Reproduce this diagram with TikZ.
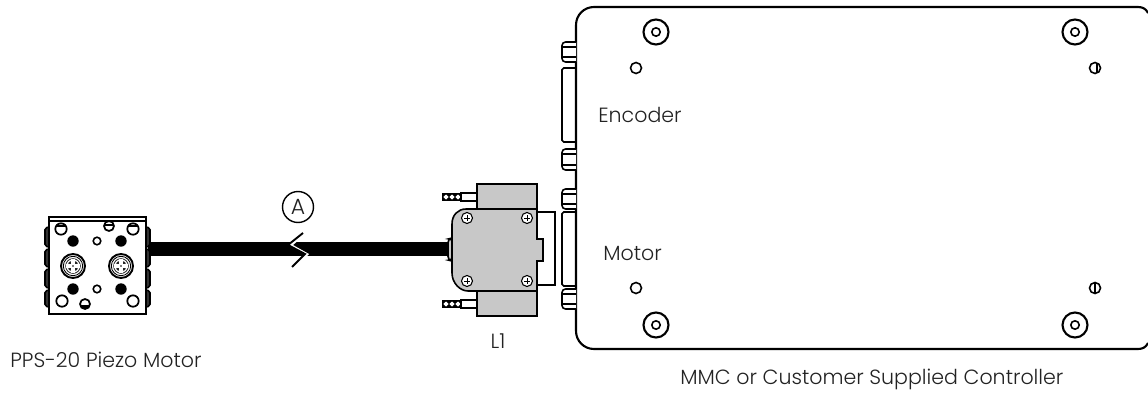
\documentclass[tikz,border=0pt]{standalone}
\usepackage{fontspec}
\setmainfont{Poppins Light}
\definecolor{shell}{HTML}{C8C8C8}
\definecolor{txt}{HTML}{222222}
\tikzset{
  x=0.02cm,y=-0.02cm,
  ln/.style={draw=black,line width=0.9pt},
  thin ln/.style={draw=black,line width=0.6pt},
  lbl/.style={inner sep=0pt,text=txt,font=\fontsize{11.7pt}{14pt}\selectfont},
  letter lbl/.style={lbl,font=\fontsize{12.5pt}{14pt}\selectfont},
  gray part/.style={ln,fill=shell},
  nut/.style={ln,fill=white,rounded corners=2pt},
}
\newcommand{\ringhole}[2]{%
  \draw[line width=1.2pt] (#1,#2) circle[radius=12.5];
  \draw[line width=0.9pt] (#1,#2) circle[radius=4.2];}
\newcommand{\connscrew}[2]{%
  \draw[thin ln,fill=white] (#1,#2) circle[radius=5.5];
  \draw[line width=0.5pt] (#1-3,#2)--(#1+3,#2) (#1,#2-3)--(#1,#2+3);}
\newcommand{\motorscrew}[2]{%
  \draw[line width=1.1pt,fill=white] (#1,#2) circle[radius=12];
  \draw[line width=0.5pt] (#1,#2) circle[radius=9.7];
  \fill[black!85] (#1,#2) circle[radius=7.8];
  \fill[white] (#1,#2) circle[radius=6.8];
  \fill[black!85] (#1,#2) circle[radius=5.6];
  \fill[white] (#1-6.8,#2-1.7) rectangle (#1+6.8,#2+1.7);
  \fill[white] (#1-1.7,#2-6.8) rectangle (#1+1.7,#2+6.8);
  \fill (#1,#2) circle[radius=0.9];}
\newcommand{\thumb}[1]{%
  \fill (442,#1) rectangle (461,#1+8);
  \foreach \k in {446,452,458}{\fill[white] (\k,#1+1.5) -- (\k+2.6,#1+4) -- (\k,#1+6.5) -- (\k-2.6,#1+4) -- cycle;}
  \draw[thin ln,fill=white] (461,#1) rectangle (477,#1+8);}
\newcommand{\ctlnut}[2]{%
  \draw[nut] (576,#1) -- (562,#1) -- (562,#2) -- (576,#2);
  \draw[thin ln] (563,#1+5) -- (576,#1+5) (563,#2-5) -- (576,#2-5);}
\begin{document}
\begin{tikzpicture}
\useasboundingbox (0,0) rectangle (1148,392);

% ---- controller
\draw[line width=1.2pt] (1148,13) .. controls (1146,9) and (1143,7) .. (1138,7) -- (594,7) .. controls (584,7) and (576,15) .. (576,25) -- (576,331) .. controls (576,341) and (584,349) .. (594,349) -- (1138,349) .. controls (1143,349) and (1146,347) .. (1148,343);
\ctlnut{42}{62}
\draw[ln,rounded corners=1pt] (576,68) -- (562,68) -- (562,142) -- (576,142);
\ctlnut{149}{170}
\ctlnut{189}{209}
\draw[ln,rounded corners=1pt] (576,212) -- (562,212) -- (562,286) -- (576,286);
\ctlnut{289}{309}
\ringhole{656}{32}
\ringhole{1075}{32}
\ringhole{656}{325}
\ringhole{1075}{325}
\draw[line width=0.9pt] (636,68) circle[radius=5.5];
\draw[line width=0.9pt] (636,288) circle[radius=5.5];
\draw[line width=0.9pt] (1095,68) circle[radius=5.5];
\draw[line width=1.2pt] (1097,63) -- (1097,73);
\draw[line width=0.9pt] (1095,288) circle[radius=5.5];
\draw[line width=0.9pt] (1095,282.5) -- (1095,293.5);

% ---- cable
\node[inner sep=0pt,minimum size=0pt] (cableL) at (148,249) {};
\node[inner sep=0pt,minimum size=0pt] (cableR) at (449,249) {};
\draw[line width=8pt] (cableL) -- (cableR);
\fill[white] (303,233) -- (288,245) -- (305,254) -- (292,267) -- (296,267) -- (309,254) -- (293,245) -- (307,233) -- cycle;
\draw[line width=1.1pt] (303,233) -- (288,245) -- (305,254) -- (292,267);
\node[draw,line width=0.8pt,circle,minimum size=0.62cm,inner sep=0pt,letter lbl] (refA) at (298,207) {A};

% ---- motor
\foreach \a/\b in {227/247,249/267,269/288,290/307}{
  \draw[ln,fill=black!80,rounded corners=1pt] (49,\a) -- (45,\a+1) -- (45,\b-1) -- (49,\b);
  \draw[ln,fill=black!80,rounded corners=1pt] (146,\a) -- (150,\a+1) -- (150,\b-1) -- (146,\b);
}
\draw[line width=1pt,fill=white] (49,217) rectangle (146,314);
\draw[line width=0.7pt] (49,221) -- (146,221);
\foreach \x/\y in {73/241,121/241,73/289,121/289}{\fill (\x,\y) circle[radius=5.7];}
\foreach \x/\y in {97/241,97/289}{\draw[line width=0.9pt] (\x,\y) circle[radius=3.8];}
\motorscrew{73}{266}
\motorscrew{121}{266}
\foreach \x/\y/\r in {61/229/5.7,133/229/5.7,62/301/5.7,133/301/5.7,109/226/5,85/304/5}{\draw[line width=1pt] (\x,\y) circle[radius=\r];}
\begin{scope}
\clip (85,304) circle[radius=5];
\fill (79,304.5) rectangle (91,310);
\end{scope}
\draw[line width=0.9pt] (104,225) -- (114,225);
\draw[line width=0.9pt] (56,226) -- (66,226);
\draw[line width=0.9pt] (128,226) -- (138,226);

% ---- connector
\thumb{193}
\thumb{300}
\draw[gray part] (477,184) rectangle (537,209);
\draw[gray part] (477,291) rectangle (537,316);
\draw[ln] (537,212) -- (555,212) -- (555,285) -- (537,285);
\draw[gray part,rounded corners=2pt] (452,238) -- (448,239) -- (448,260) -- (452,261) -- cycle;
\draw[gray part] (537,209) -- (466,209) .. controls (458,209) and (452,215) .. (452,224) -- (452,273) .. controls (452,283) and (460,291) .. (468,291) -- (537,291) -- (537,261) -- (543,261) -- (543,239) -- (537,239) -- cycle;
\connscrew{467}{218}
\connscrew{527}{218}
\connscrew{467}{281}
\connscrew{527}{281}

% ---- labels
\node[lbl,anchor=west] (encoderT) at (598,115) {Encoder};
\node[lbl,anchor=west] (motorT) at (603,253) {Motor};
\node[lbl,anchor=west] (ppsT) at (10,360) {PPS-20 Piezo Motor};
\node[lbl,anchor=center] (l1T) at (498,341) {L1};
\node[lbl,anchor=west] (mmcT) at (680,379) {MMC or Customer Supplied Controller};
\end{tikzpicture}
\end{document}
